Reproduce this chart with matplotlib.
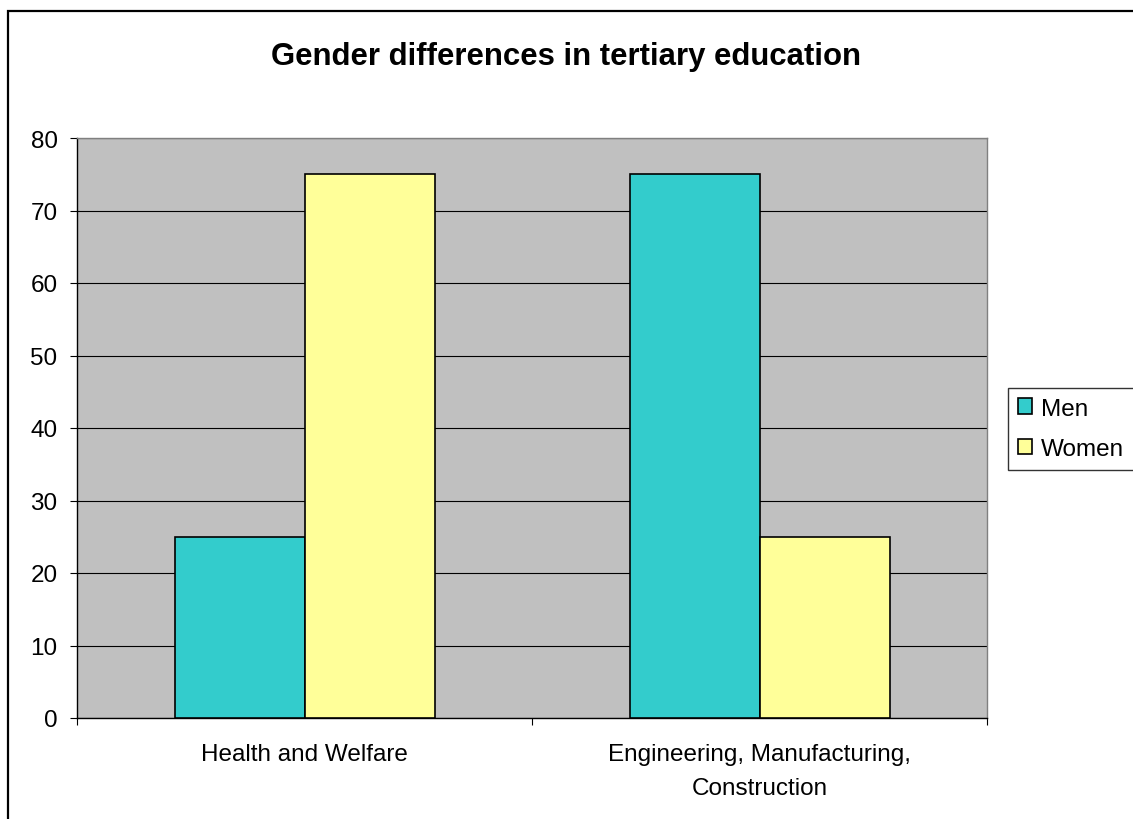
import matplotlib.pyplot as plt
from matplotlib.patches import Rectangle

# 数据
categories = ["Health and Welfare", "Engineering, Manufacturing,\nConstruction"]
men = [25, 75]
women = [75, 25]
series_names = ["Men", "Women"]

plt.rcParams['font.family'] = ['Liberation Sans', 'DejaVu Sans']

W, H = 1133, 820
fig = plt.figure(figsize=(W / 100, H / 100), dpi=100, facecolor="white")

# 外边框
fig.add_artist(Rectangle((8 / W, -0.05), 1.2, (H - 12) / H + 0.05, transform=fig.transFigure,
                         fill=False, edgecolor="black", linewidth=1.6))

ax = fig.add_axes([77 / W, (H - 719) / H, (987 - 77) / W, (719 - 139) / H])
ax.set_facecolor("#C0C0C0")

bw = 130 / 455
x = [i + 0.5 for i in range(len(categories))]
ax.bar([v - bw / 2 for v in x], men, width=bw, color="#33CCCC", edgecolor="black", linewidth=1.2,
       label=series_names[0], zorder=3)
ax.bar([v + bw / 2 for v in x], women, width=bw, color="#FFFF99", edgecolor="black", linewidth=1.2,
       label=series_names[1], zorder=3)

ax.set_xlim(0, len(categories))
ax.set_ylim(0, 80)
ax.set_yticks(range(0, 81, 10))
ax.yaxis.grid(True, color="black", linewidth=0.8, zorder=1)
ax.set_axisbelow(True)

# x轴：主刻度在分类边界，标签放在次刻度
ax.set_xticks(range(0, len(categories) + 1))
ax.set_xticklabels([])
ax.set_xticks(x, minor=True)
ax.set_xticklabels(categories, minor=True, linespacing=1.7)
ax.tick_params(axis="x", which="minor", length=0, pad=18, labelsize=17.5)
ax.tick_params(axis="x", which="major", length=5, direction="out")
ax.tick_params(axis="y", length=5, direction="out", labelsize=17.5, pad=9)

for s in ["left", "bottom"]:
    ax.spines[s].set_color("black")
    ax.spines[s].set_linewidth(1.0)
for s in ["top", "right"]:
    ax.spines[s].set_color("#808080")
    ax.spines[s].set_linewidth(1.0)

fig.text(566 / W, 1 - 57 / H, "Gender differences in tertiary education", ha="center", va="center",
         fontsize=22.4, fontweight="bold")

leg = fig.legend(loc="upper left", bbox_to_anchor=(1008 / W, 1 - 389 / H), fontsize=17.5,
                 frameon=True, fancybox=False, handlelength=0.6, handleheight=0.6,
                 handletextpad=0.35, borderpad=0.4, labelspacing=0.75, borderaxespad=0)
leg.get_frame().set_edgecolor("black")
leg.get_frame().set_linewidth(1.0)

fig.savefig("out.png", dpi=100, facecolor="white")
